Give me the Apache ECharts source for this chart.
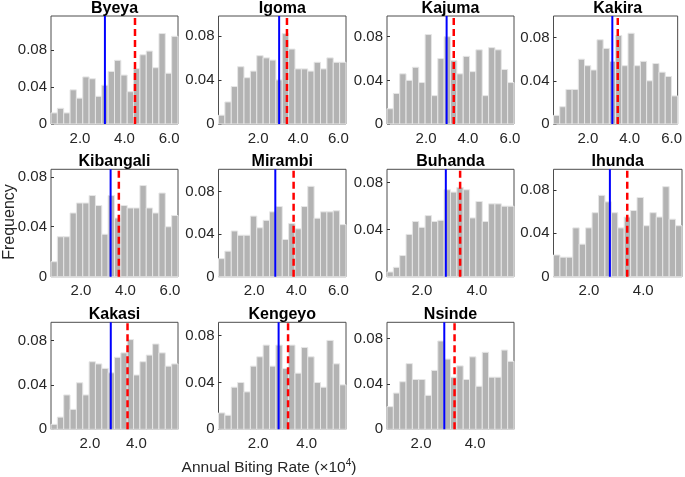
<!DOCTYPE html>
<html>
<head>
<meta charset="utf-8">
<script src="https://cdn.jsdelivr.net/npm/echarts@6/dist/echarts.min.js"></script>
<style>html,body{margin:0;padding:0;background:#fff}#c{width:685px;height:477px}</style>
</head>
<body>
<div id="c"></div>
<script>
// ---- data ----
const sites = ['Byeya','Igoma','Kajuma','Kakira','Kibangali','Mirambi','Buhanda','Ihunda','Kakasi','Kengeyo','Nsinde'];
const byeya     = [0.012,0.017,0.012,0.037,0.028,0.051,0.049,0.030,0.042,0.057,0.069,0.053,0.035,0.060,0.075,0.079,0.061,0.098,0.055,0.095];
const igoma     = [0.008,0.020,0.034,0.052,0.042,0.048,0.062,0.060,0.058,0.040,0.082,0.068,0.050,0.050,0.048,0.056,0.050,0.060,0.056,0.056];
const kajuma    = [0.014,0.028,0.046,0.040,0.052,0.038,0.082,0.026,0.060,0.080,0.058,0.046,0.062,0.048,0.068,0.026,0.070,0.068,0.050,0.038];
const kakira    = [0.008,0.016,0.032,0.032,0.060,0.054,0.050,0.078,0.070,0.058,0.082,0.054,0.084,0.054,0.058,0.040,0.056,0.048,0.044,0.026];
const kibangali = [0.012,0.032,0.032,0.051,0.059,0.059,0.065,0.057,0.034,0.065,0.047,0.057,0.055,0.055,0.073,0.055,0.051,0.067,0.040,0.049];
const mirambi   = [0.017,0.024,0.043,0.039,0.039,0.057,0.046,0.053,0.061,0.066,0.035,0.050,0.045,0.066,0.085,0.055,0.061,0.061,0.062,0.049];
const buhanda   = [0.004,0.008,0.018,0.036,0.047,0.042,0.052,0.047,0.048,0.074,0.072,0.076,0.074,0.050,0.064,0.047,0.062,0.062,0.060,0.060];
const ihunda    = [0.020,0.018,0.018,0.045,0.030,0.045,0.059,0.075,0.069,0.059,0.045,0.055,0.061,0.073,0.047,0.059,0.055,0.083,0.053,0.047];
const kakasi    = [0.0045,0.011,0.031,0.018,0.042,0.031,0.061,0.059,0.055,0.051,0.065,0.069,0.081,0.049,0.061,0.067,0.077,0.069,0.057,0.059];
const kengeyo   = [0.014,0.012,0.036,0.040,0.032,0.054,0.062,0.072,0.054,0.072,0.052,0.072,0.048,0.070,0.062,0.040,0.036,0.076,0.056,0.038];
const nsinde    = [0.020,0.032,0.042,0.058,0.044,0.044,0.030,0.052,0.078,0.062,0.046,0.056,0.044,0.064,0.038,0.068,0.046,0.046,0.070,0.060];
const freqs = [byeya,igoma,kajuma,kakira,kibangali,mirambi,buhanda,ihunda,kakasi,kengeyo,nsinde];

const binLow  = [0.70,0.03,0.14,0.36,0.65,0.30,0.73,0.69,0.33,0.36,0.74];
const binHigh = [6.40,6.38,6.19,6.29,6.36,6.36,5.35,5.43,5.79,5.62,5.44];
const freqMax = [0.117,0.098,0.099,0.100,0.086,0.101,0.0914,0.099,0.0966,0.0915,0.0945];
const blueLine = [3.12,3.05,2.98,3.17,3.33,3.00,2.87,2.77,2.90,2.84,2.86];
const redLine  = [4.47,3.44,3.32,3.43,3.70,3.87,3.39,3.41,3.62,3.23,3.24];
const xTicksLong  = [2,4,6];
const xTicksShort = [2,4];
const xTickSets = [xTicksLong,xTicksLong,xTicksLong,xTicksLong,xTicksLong,xTicksLong,xTicksShort,xTicksShort,xTicksShort,xTicksShort,xTicksShort];
const yTicks = [0,0.04,0.08];

// ---- layout ----
const colLeft = [51,218.5,387,553.5], colW = [127,127.5,127,128.5];
const rowTop = [16,169.3,322.3], rowH = [108,107.4,107];
const FONT = '"Liberation Sans", Arial, Helvetica, sans-serif';
const TXT = '#262626';

const grid=[], xAxis=[], yAxis=[], series=[], title=[];
sites.forEach((name,i)=>{
  const r = Math.floor(i/4), c = i%4;
  grid.push({left:colLeft[c], top:rowTop[r], width:colW[c], height:rowH[r], show:true, borderColor:'#4d4d4d', borderWidth:1, backgroundColor:'transparent'});
  title.push({text:name, left:colLeft[c]+colW[c]/2, top:rowTop[r]-15.5, textAlign:'center', padding:0,
    textStyle:{fontFamily:FONT, fontWeight:'bold', fontSize:16, color:'#000'}});
  xAxis.push({type:'value', gridIndex:i, min:binLow[i], max:binHigh[i],
    axisLine:{show:false}, splitLine:{show:false},
    axisTick:{show:true, inside:true, length:3, customValues:xTickSets[i], lineStyle:{color:'#333'}},
    axisLabel:{customValues:xTickSets[i], formatter:v=>v.toFixed(1), color:TXT, fontSize:15, fontFamily:FONT, margin:7}});
  yAxis.push({type:'value', gridIndex:i, min:0, max:freqMax[i],
    axisLine:{show:false}, splitLine:{show:false},
    axisTick:{show:true, inside:true, length:3, customValues:yTicks, lineStyle:{color:'#333'}},
    axisLabel:{customValues:yTicks, formatter:v=>v===0?'0':v.toFixed(2), color:TXT, fontSize:15, fontFamily:FONT, margin:4}});
  const n = freqs[i].length, w = (binHigh[i]-binLow[i])/n;
  const data = freqs[i].map((v,k)=>[binLow[i]+k*w, binLow[i]+(k+1)*w, v]);
  series.push({type:'custom', xAxisIndex:i, yAxisIndex:i, data:data, encode:{x:[0,1], y:2}, silent:true,
    renderItem:(params,api)=>{
      const p0 = api.coord([api.value(0),0]);
      const p1 = api.coord([api.value(1),api.value(2)]);
      return {type:'rect', shape:{x:p0[0], y:p1[1], width:p1[0]-p0[0], height:p0[1]-p1[1]},
        style:{fill:'#b3b3b3', stroke:'#e6e6e6', lineWidth:1}};
    }});
  series.push({type:'line', xAxisIndex:i, yAxisIndex:i, symbol:'none', silent:true, z:5,
    data:[[blueLine[i],0],[blueLine[i],freqMax[i]]], lineStyle:{color:'#0000ff', width:2}});
  series.push({type:'line', xAxisIndex:i, yAxisIndex:i, symbol:'none', silent:true, z:5,
    data:[[redLine[i],0],[redLine[i],freqMax[i]]], lineStyle:{color:'#ff0000', width:2.5, type:[7,4]}});
});

const chart = echarts.init(document.getElementById('c'), null, {renderer:'canvas'});
chart.setOption({
  animation:false,
  backgroundColor:'#fff',
  title:title, grid:grid, xAxis:xAxis, yAxis:yAxis, series:series,
  graphic:[
    {type:'text', x:10, y:222, rotation:Math.PI/2,
      style:{text:'Frequency', fontFamily:FONT, fontSize:16, fill:TXT, align:'center', verticalAlign:'middle'}},
    {type:'text', x:269, y:468,
      style:{text:'Annual Biting Rate (×10{sup|4})', fontFamily:FONT, fontSize:15.5, fill:TXT, align:'center', verticalAlign:'middle', lineHeight:20,
        rich:{sup:{fontSize:10, fontFamily:FONT, fill:TXT, verticalAlign:'top', lineHeight:20}}}}
  ]
});
</script>
</body>
</html>
